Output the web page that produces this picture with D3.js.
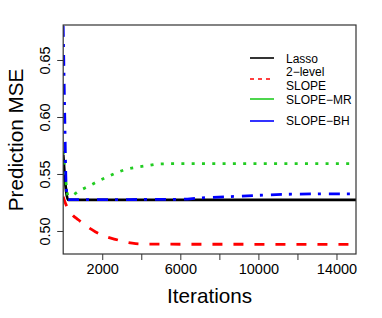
<!DOCTYPE html>
<html>
<head>
<meta charset="utf-8">
<script src="https://cdn.jsdelivr.net/npm/d3@7"></script>
<style>
  body { margin: 0; background: #fff; }
  svg { font-family: "Liberation Sans", Arial, sans-serif; }
</style>
</head>
<body>
<div id="chart"></div>
<script>
// Series data (iteration, prediction MSE)
var seriesNames = ["Lasso", "2\u2212level SLOPE", "SLOPE\u2212MR", "SLOPE\u2212BH"];

var lassoIter = [0, 150, 250, 15000];
var lassoMSE  = [0.567, 0.535, 0.5272, 0.5272];

var twoLevelIter = [0, 100, 410, 790, 1230, 1640, 2200, 2670, 3230, 3710, 4500, 15000];
var twoLevelMSE  = [0.530, 0.525, 0.5155, 0.5096, 0.5038, 0.4994, 0.4950, 0.4927, 0.4901, 0.4889, 0.4884, 0.4883];

var mrIter = [0, 100, 250, 360, 840, 1330, 1815, 2300, 2800, 3300, 3850, 4400, 4900, 5500, 15000];
var mrMSE  = [0.570, 0.550, 0.531, 0.5307, 0.5354, 0.5395, 0.5439, 0.5477, 0.5515, 0.5544, 0.5561, 0.5576, 0.5588, 0.5590, 0.5590];

var bhIter = [0, 80, 150, 250, 6000, 7000, 8500, 10000, 11500, 13000, 15000];
var bhMSE  = [0.680, 0.600, 0.540, 0.5275, 0.5278, 0.5290, 0.5301, 0.5313, 0.5322, 0.5325, 0.5326];

var xTicks = [2000, 4000, 6000, 8000, 10000, 12000, 14000];
var xLabels = [2000, 6000, 10000, 14000];
var yTicks = [0.50, 0.55, 0.60, 0.65];

var width = 382, height = 318;
var margin = {top: 25, right: 26, bottom: 64, left: 63.2};

var svg = d3.select("#chart").append("svg")
    .attr("width", width)
    .attr("height", height);

var x = d3.scaleLinear().domain([0, 15000]).range([margin.left, width - margin.right]);
var y = d3.scaleLinear().domain([0.4798, 0.6807]).range([height - margin.bottom, margin.top]);

svg.append("clipPath").attr("id", "plotclip")
  .append("rect")
    .attr("x", margin.left).attr("y", margin.top)
    .attr("width", width - margin.right - margin.left)
    .attr("height", height - margin.bottom - margin.top);

// Curves
var styles = [
  {iter: lassoIter,    mse: lassoMSE,    color: "#000000", dash: null},
  {iter: twoLevelIter, mse: twoLevelMSE, color: "#ff0000", dash: "10,11"},
  {iter: mrIter,       mse: mrMSE,       color: "#22cc22", dash: "3,7.3"},
  {iter: bhIter,       mse: bhMSE,       color: "#0000ff", dash: "11,7,3,8"}
];

var line = d3.line()
    .x(function (d) { return x(d[0]); })
    .y(function (d) { return y(d[1]); })
    .curve(d3.curveMonotoneX);

var curves = svg.append("g").attr("clip-path", "url(#plotclip)");
styles.forEach(function (s) {
  var pts = s.iter.map(function (it, i) { return [it, s.mse[i]]; });
  curves.append("path")
      .datum(pts)
      .attr("d", line)
      .attr("fill", "none")
      .attr("stroke", s.color)
      .attr("stroke-width", 2.8)
      .attr("stroke-dasharray", s.dash);
});

// Axes
var xAxis = svg.append("g")
    .attr("transform", "translate(0," + (height - margin.bottom) + ")")
    .call(d3.axisBottom(x).tickValues(xTicks).tickSize(6).tickPadding(4)
      .tickFormat(function (d) { return xLabels.indexOf(d) >= 0 ? d : ""; }));
xAxis.select(".domain").remove();
xAxis.selectAll("text").attr("font-size", 14.5).attr("fill", "#000")
    .attr("font-family", "Liberation Sans, Arial, sans-serif");
xAxis.selectAll("line").attr("stroke", "#333");

var yAxis = svg.append("g")
    .attr("transform", "translate(" + margin.left + ",0)")
    .call(d3.axisLeft(y).tickValues(yTicks).tickSize(6)
      .tickFormat(d3.format(".2f")));
yAxis.select(".domain").remove();
yAxis.selectAll("line").attr("stroke", "#333");
yAxis.selectAll("text")
    .attr("font-size", 14.5).attr("fill", "#000")
    .attr("font-family", "Liberation Sans, Arial, sans-serif")
    .attr("text-anchor", "middle")
    .attr("dy", null)
    .attr("x", null)
    .attr("transform", "translate(-13,0) rotate(-90)");

// Box
svg.append("rect")
    .attr("x", margin.left).attr("y", margin.top)
    .attr("width", width - margin.right - margin.left)
    .attr("height", height - margin.bottom - margin.top)
    .attr("fill", "none")
    .attr("stroke", "#333")
    .attr("stroke-width", 1.2);

// Axis titles
svg.append("text")
    .attr("x", (margin.left + width - margin.right) / 2)
    .attr("y", 303)
    .attr("text-anchor", "middle")
    .attr("font-size", 20.7)
    .text("Iterations");

svg.append("text")
    .attr("transform", "translate(23," + 140 + ") rotate(-90)")
    .attr("text-anchor", "middle")
    .attr("font-size", 20.7)
    .text("Prediction MSE");

// Legend
var legend = svg.append("g");
var legendRows = [
  {lines: ["Lasso"], ty: [58.3], ly: 58, color: "#000000", dash: null},
  {lines: ["2\u2212level", "SLOPE"], ty: [72, 86], ly: 79, color: "#ff0000", dash: "4,4"},
  {lines: ["SLOPE\u2212MR"], ty: [99.7], ly: 99, color: "#22cc22", dash: null},
  {lines: ["SLOPE\u2212BH"], ty: [121], ly: 121, color: "#0000ff", dash: null}
];
legendRows.forEach(function (r) {
  legend.append("line")
      .attr("x1", 250).attr("x2", 274)
      .attr("y1", r.ly).attr("y2", r.ly)
      .attr("stroke", r.color)
      .attr("stroke-width", 1.6)
      .attr("stroke-dasharray", r.dash);
  r.lines.forEach(function (t, i) {
    legend.append("text")
        .attr("x", 286)
        .attr("y", r.ty[i])
        .attr("dy", "0.35em")
        .attr("font-size", 12)
        .text(t);
  });
});
</script>
</body>
</html>
